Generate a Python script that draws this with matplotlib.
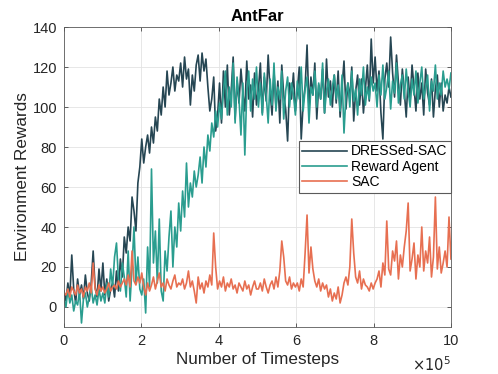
import matplotlib
matplotlib.use("Agg")
import matplotlib.pyplot as plt
import numpy as np

# rewards, 20 points per 1e5 timesteps
dressed_sac = [
    8, 3, 12, 5, 26, 9, 2, 14, 6, 11, 4, 16, 7, 3, 12, 28, 10, 5, 19, 8,
    22, 6, 14, 3, 9, 12, 5, 18, 8, 24, 15, 35, 27, 40, 33, 55, 48, 38, 62, 70,
    84, 72, 80, 86, 77, 90, 82, 95, 88, 104, 96, 110, 100, 118, 106, 112, 120, 108, 116, 113,
    122, 110, 125, 114, 119, 101, 116, 108, 121, 126, 113, 127, 118, 124, 110, 98, 104, 115, 88, 96,
    112, 92, 118, 100, 121, 96, 108, 125, 94, 113, 102, 119, 107, 98, 123, 104, 111, 95, 117, 101,
    109, 122, 97, 115, 103, 126, 108, 96, 118, 100, 113, 92, 121, 106, 99, 83, 112, 104, 117, 98,
    108, 120, 84, 102, 110, 131, 99, 115, 106, 122, 94, 111, 104, 119, 97, 124, 105, 113, 100, 116,
    102, 118, 95, 110, 123, 99, 112, 104, 120, 93, 108, 116, 101, 114, 97, 109, 121, 103, 134, 112,
    125, 108, 118, 97, 84, 114, 122, 110, 135, 117, 105, 126, 112, 101, 119, 108, 95, 115, 103, 121,
    110, 98, 117, 104, 112, 96, 119, 107, 101, 114, 95, 109, 116, 100, 112, 98, 106, 102, 110, 105,
]

reward_agent = [
    4, 0, 9, 2, 6, -2, 3, 1, 8, -8, 4, 7, 0, 5, 10, 2, 6, 1, 9, 3,
    7, 2, 12, 5, 19, 10, 25, 32, 14, 8, 22, 15, 5, 28, 3, 20, 40, 12, 25, 9,
    6, 14, -3, 30, 10, 69, 22, 38, 12, 44, 8, 3, 28, 18, 35, 48, 20, 40, 30, 52,
    38, 58, 45, 72, 50, 62, 55, 68, 60, 66, 75, 62, 80, 70, 86, 78, 92, 85, 98, 90,
    102, 94, 108, 118, 96, 110, 100, 122, 92, 115, 104, 86, 112, 76, 108, 118, 98, 114, 104, 120,
    100, 112, 96, 117, 106, 92, 114, 101, 122, 98, 110, 104, 118, 94, 108, 115, 100, 112, 106, 96,
    113, 104, 120, 98, 109, 115, 92, 110, 106, 118, 100, 112, 104, 122, 97, 108, 114, 101, 110, 116,
    104, 111, 98, 116, 87, 106, 112, 100, 118, 103, 109, 96, 114, 106, 120, 101, 110, 104, 115, 108,
    112, 100, 116, 106, 121, 104, 110, 118, 99, 113, 107, 122, 102, 111, 116, 104, 119, 108, 100, 114,
    106, 118, 102, 112, 120, 104, 110, 116, 98, 113, 108, 121, 104, 112, 106, 118, 110, 114, 109, 117,
]

sac = [
    7, 6, 9, 5, 10, 8, 6, 11, 7, 9, 5, 10, 8, 12, 7, 22, 9, 6, 11, 8,
    10, 7, 9, 12, 8, 10, 11, 9, 13, 10, 12, 14, 11, 16, 10, 28, 13, 11, 15, 12,
    17, 10, 6, 12, 8, 11, 15, 9, 13, 17, 10, 12, 8, 14, 11, 9, 13, 16, 10, 12,
    11, 14, 9, 12, 18, 10, 13, 8, 2, 15, 9, 12, 7, 13, 10, 16, 11, 37, 20, 9,
    13, 10, 15, 8, 12, 10, 14, 9, 11, 7, 12, 10, 8, 13, 9, 11, 6, 10, 13, 9,
    9, 12, 8, 14, 10, 7, 11, 13, 9, 15, 10, 18, 33, 25, 13, 11, 15, 9, 12, 10,
    12, 8, 14, 10, 27, 46, 17, 30, 19, 13, 10, 14, 8, 12, 9, 11, 5, 9, 3, 7,
    4, 10, 2, 6, 12, 15, 11, 20, 44, 27, 15, 12, 18, 9, 14, 11, 10, 8, 12, 9,
    12, 14, 18, 10, 22, 16, 43, 19, 16, 28, 23, 33, 14, 26, 20, 30, 38, 52, 18, 24,
    32, 14, 26, 20, 40, 18, 28, 22, 35, 15, 25, 55, 19, 30, 17, 22, 28, 20, 45, 24,
]

labels = ["DRESSed-SAC", "Reward Agent", "SAC"]
colors = ["#264653", "#2a9d8f", "#e76f51"]

plt.rcParams["font.family"] = ["Liberation Sans", "DejaVu Sans"]

steps = np.linspace(0, 10, len(sac))  # in units of 1e5

fig = plt.figure(figsize=(4.98, 3.74), dpi=100)
ax = fig.add_axes([0.1285, 0.1257, 0.777, 0.802])

ax.plot(steps, dressed_sac, color=colors[0], lw=1.2, label=labels[0])
ax.plot(steps, reward_agent, color=colors[1], lw=1.2, label=labels[1])
ax.plot(steps, sac, color=colors[2], lw=1.2, label=labels[2])

ax.set_xlim(0, 10)
ax.set_ylim(-10, 140)
ax.set_xticks([0, 2, 4, 6, 8, 10])
ax.set_yticks([0, 20, 40, 60, 80, 100, 120, 140])
ax.grid(True, color="#e3e3e3", lw=0.6)
ax.set_axisbelow(True)
ax.tick_params(direction="in", length=3, width=0.5, top=True, right=True,
               labelsize=10.5, colors="#262626", pad=5)
for sp in ax.spines.values():
    sp.set_linewidth(0.6)
    sp.set_color("#5a5a5a")

ax.set_title("AntFar", fontsize=12, fontweight="bold", pad=4)
ax.set_xlabel("Number of Timesteps", fontsize=12.3, color="#262626", labelpad=3)
ax.set_ylabel("Environment Rewards", fontsize=12.3, color="#262626", labelpad=2)
ax.text(1.0, -0.125, r"$\times10^5$", transform=ax.transAxes, ha="right",
        va="center", fontsize=10.5, color="#262626")

leg = ax.legend(loc="upper right", bbox_to_anchor=(1.0, 0.62), fontsize=10,
                fancybox=False, framealpha=1, edgecolor="#5a5a5a",
                handlelength=3.2, handletextpad=0.3, borderpad=0.25,
                labelspacing=0.1, borderaxespad=0)
leg.get_frame().set_linewidth(0.8)

fig.savefig("out.png", dpi=100)
